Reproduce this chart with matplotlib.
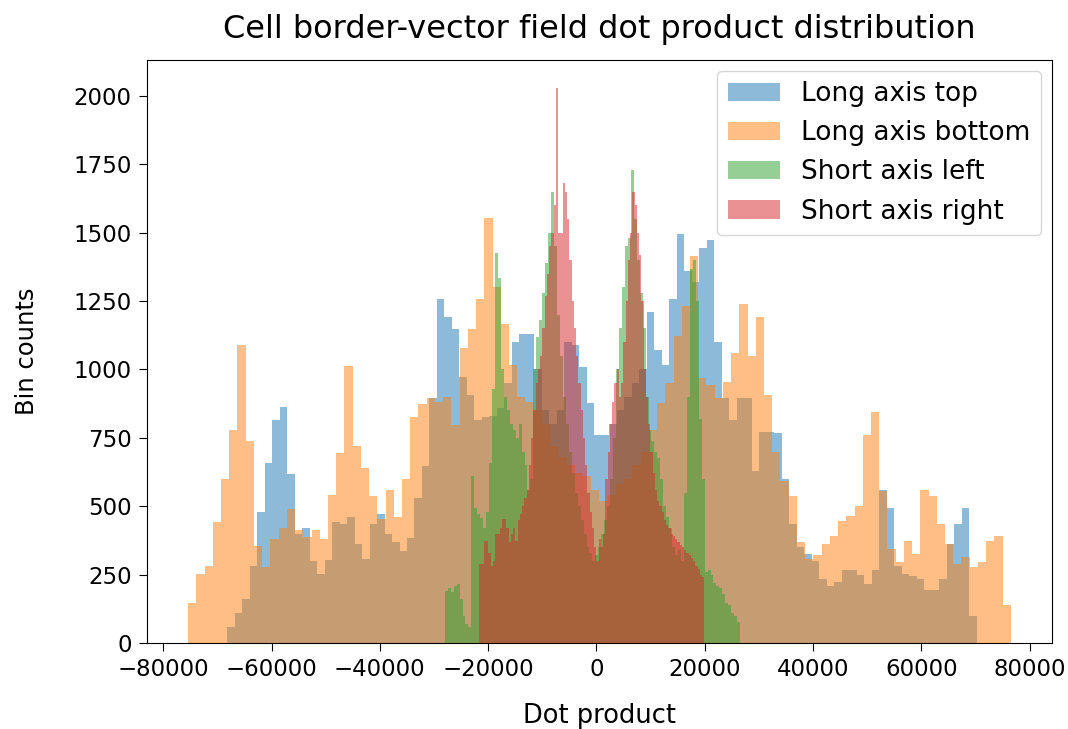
import matplotlib

matplotlib.use("Agg")
import matplotlib.pyplot as plt
import numpy as np

# bin ranges (dot product units), 100 bins each
RANGES = {
    "Long axis top": (-68200, 70200),
    "Long axis bottom": (-75400, 76500),
    "Short axis left": (-28000, 26500),
    "Short axis right": (-21600, 19900),
}

long_top = [
    59, 108, 162, 283, 480, 658, 814, 864, 618, 400,
    420, 301, 253, 304, 444, 434, 461, 362, 307, 434,
    471, 400, 371, 338, 382, 529, 646, 894, 1257, 1191,
    1148, 973, 906, 815, 828, 830, 860, 950, 1100, 1130,
    1130, 1000, 850, 800, 850, 1100, 1090, 1009, 876, 761,
    761, 800, 850, 900, 950, 1000, 1209, 1070, 1015, 1257,
    1497, 1360, 1318, 1445, 1475, 1100, 894, 815, 894, 894,
    628, 773, 773, 767, 600, 434, 350, 325, 301, 235,
    210, 222, 265, 265, 247, 216, 265, 561, 492, 283,
    253, 245, 235, 192, 195, 235, 362, 434, 492, 98,
]

long_bottom = [
    146, 253, 283, 443, 600, 777, 1090, 737, 353, 277,
    380, 421, 489, 413, 386, 413, 380, 540, 694, 1013,
    719, 638, 537, 453, 559, 461, 601, 828, 874, 894,
    880, 900, 797, 1079, 1148, 1257, 1554, 1300, 1166, 1015,
    900, 880, 850, 800, 720, 680, 650, 620, 610, 560,
    520, 540, 580, 600, 650, 700, 780, 876, 950, 1124,
    1233, 1415, 970, 943, 894, 955, 1060, 1239, 1051, 1191,
    906, 700, 592, 537, 368, 307, 320, 362, 392, 446,
    464, 501, 759, 846, 555, 344, 295, 374, 325, 561,
    537, 434, 362, 289, 313, 277, 295, 374, 392, 138,
]

short_left = [
    190, 200, 186, 210, 216, 162, 100, 70, 60, 610,
    495, 470, 458, 420, 480, 658, 930, 1426, 1336, 1000,
    900, 850, 800, 780, 750, 800, 700, 650, 560, 600,
    1000, 1120, 1180, 1280, 1390, 1500, 1650, 1450, 1200, 1050,
    900, 800, 700, 620, 550, 500, 450, 400, 350, 330,
    300, 320, 350, 400, 450, 500, 600, 750, 1000, 1150,
    1300, 1450, 1480, 1730, 1550, 1400, 1280, 1150, 900, 780,
    740, 700, 676, 600, 500, 460, 420, 350, 320, 340,
    300, 550, 900, 1366, 1400, 1250, 820, 600, 260, 265,
    250, 220, 210, 200, 180, 145, 140, 110, 100, 75,
]

short_right = [
    290, 290, 374, 374, 330, 280, 300, 400, 400, 420,
    452, 452, 420, 368, 400, 420, 374, 450, 470, 500,
    531, 560, 650, 750, 850, 950, 1000, 1050, 1150, 1270,
    1350, 1450, 1500, 1600, 2030, 1500, 1500, 1680, 1650, 1550,
    1400, 1250, 1150, 1050, 950, 850, 750, 650, 550, 480,
    420, 350, 300, 380, 350, 400, 600, 700, 800, 880,
    950, 1000, 900, 950, 1100, 1250, 1400, 1500, 1650, 1600,
    1500, 1420, 1250, 1000, 900, 800, 700, 620, 560, 520,
    500, 480, 450, 430, 420, 400, 390, 380, 370, 360,
    350, 340, 330, 320, 310, 300, 280, 270, 250, 240,
]

SERIES = [
    ("Long axis top", long_top),
    ("Long axis bottom", long_bottom),
    ("Short axis left", short_left),
    ("Short axis right", short_right),
]

fig = plt.figure(figsize=(10.68, 7.29), dpi=100)
ax = fig.add_axes([0.1376, 0.118, 0.8474, 0.7997])

for label, counts in SERIES:
    lo, hi = RANGES[label]
    edges = np.linspace(lo, hi, len(counts) + 1)
    centers = 0.5 * (edges[:-1] + edges[1:])
    ax.hist(centers, bins=edges, weights=counts, alpha=0.5, label=label)

ax.set_xticks(np.arange(-80000, 80001, 20000))
ax.set_yticks(np.arange(0, 2001, 250))
ax.tick_params(labelsize=16.5, length=6, pad=5)
ax.set_title("Cell border-vector field dot product distribution", fontsize=23, pad=16)
ax.set_xlabel("Dot product", fontsize=18.5, labelpad=16)
ax.set_ylabel("Bin counts", fontsize=17.5, labelpad=25)
ax.legend(loc="upper right", fontsize=19, borderaxespad=0.4)

fig.savefig("out.png", dpi=100)
